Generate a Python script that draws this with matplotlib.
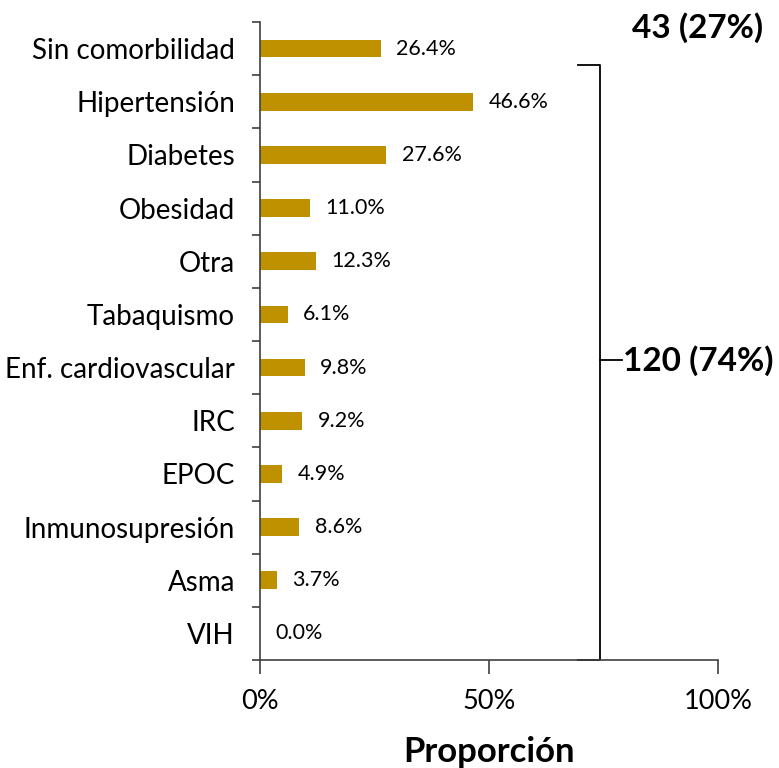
import matplotlib
matplotlib.use("Agg")
import matplotlib.pyplot as plt
import numpy as np

plt.rcParams['font.family'] = ['Lato', 'DejaVu Sans']

categorias = ["Sin comorbilidad", "Hipertensión", "Diabetes", "Obesidad", "Otra",
              "Tabaquismo", "Enf. cardiovascular", "IRC", "EPOC", "Inmunosupresión",
              "Asma", "VIH"]
porcentajes = [26.4, 46.6, 27.6, 11.0, 12.3, 6.1, 9.8, 9.2, 4.9, 8.6, 3.7, 0.0]
etiqueta_sin = "43 (27%)"
etiqueta_con = "120 (74%)"

color_barra = "#BF9000"
color_eje = "#404040"

fig = plt.figure(figsize=(7.79, 7.68), dpi=100)
ax = fig.add_axes([260 / 779, 1 - 660 / 768, 458 / 779, 638 / 768])

y = np.arange(len(categorias))
ax.barh(y, porcentajes, height=0.33, color=color_barra)

for yi, v in zip(y, porcentajes):
    ax.annotate(f"{v:.1f}%", (v, yi), xytext=(11, 0), textcoords="offset points",
                va="center", ha="left", fontsize=15.5)

ax.set_xlim(0, 100)
ax.set_ylim(len(categorias) - 0.5, -0.5)

ax.set_yticks(np.arange(-0.5, len(categorias)), minor=False)
ax.set_yticklabels([])
ax.set_yticks(y, minor=True)
ax.set_yticklabels(categorias, minor=True, fontsize=20)
ax.tick_params(axis="y", which="major", length=6, width=1.2, color=color_eje)
ax.tick_params(axis="y", which="minor", length=0, pad=18)

ax.set_xticks([0, 50, 100])
ax.set_xticklabels(["0%", "50%", "100%"], fontsize=19.5)
ax.tick_params(axis="x", length=10, width=1.2, color=color_eje, pad=11)

for s in ["top", "right"]:
    ax.spines[s].set_visible(False)
for s in ["left", "bottom"]:
    ax.spines[s].set_color(color_eje)
    ax.spines[s].set_linewidth(1.2)

ax.set_xlabel("Proporción", fontsize=25, fontweight="bold", labelpad=16)

# corchete de pacientes con comorbilidad
xb, xi = 74.2, 69.4
ytop, ymid, ybot = 0.31, 5.86, 11.5
ax.plot([xi, xb, xb, xi], [ytop, ytop, ybot, ybot], color="black", lw=1.3, clip_on=False)
ax.plot([xb, 79.0], [ymid, ymid], color="black", lw=1.3, clip_on=False)
ax.text(79.2, ymid, etiqueta_con, fontsize=24, fontweight="bold", va="center", ha="left")

fig.text(698 / 779, 1 - 28 / 768, etiqueta_sin, fontsize=24, fontweight="bold",
         va="center", ha="center")

fig.savefig("out.png", dpi=100)
